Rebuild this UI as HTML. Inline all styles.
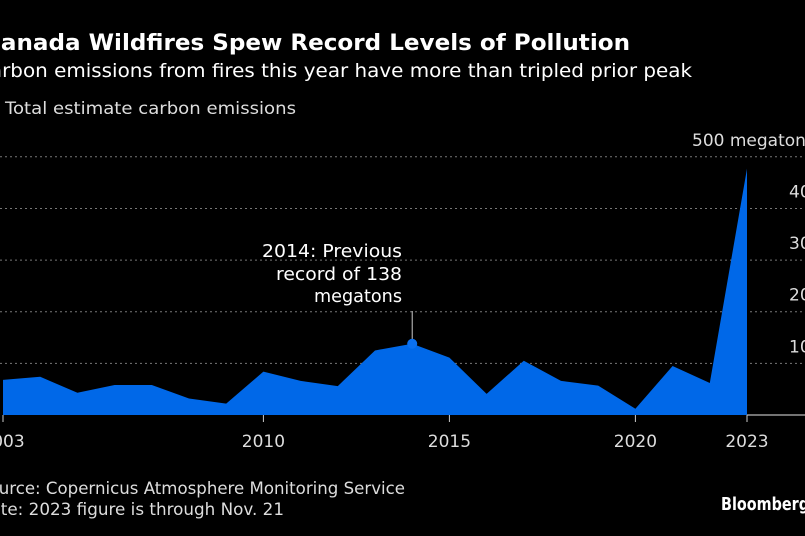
<!DOCTYPE html>
<html><head><meta charset="utf-8"><style>
html,body{margin:0;padding:0;background:#000;width:805px;height:536px;overflow:hidden}
svg{display:block;font-family:"DejaVu Sans","Liberation Sans",sans-serif}
</style></head><body>
<svg id="chart" width="805" height="536" viewBox="0 0 805 536">
<rect width="805" height="536" fill="#000"/>
<text x="-16" y="50" fill="#fff" font-weight="bold" font-size="22" textLength="646" lengthAdjust="spacingAndGlyphs">Canada Wildfires Spew Record Levels of Pollution</text>
<text x="-24" y="77" fill="#fff" font-size="19" textLength="716" lengthAdjust="spacingAndGlyphs">Carbon emissions from fires this year have more than tripled prior peak</text>
<text x="5" y="114" fill="#ddd" font-size="17" textLength="291" lengthAdjust="spacingAndGlyphs">Total estimate carbon emissions</text>
<g id="grid"></g>
<g id="area"></g>
<g id="axis"></g>
<g>
<text x="402" y="257" fill="#fff" font-size="18" text-anchor="end" textLength="140" lengthAdjust="spacingAndGlyphs">2014: Previous</text>
<text x="402" y="280" fill="#fff" font-size="18" text-anchor="end" textLength="126" lengthAdjust="spacingAndGlyphs">record of 138</text>
<text x="402" y="302" fill="#fff" font-size="18" text-anchor="end" textLength="88" lengthAdjust="spacingAndGlyphs">megatons</text>
</g>
<text x="-22" y="494" fill="#ddd" font-size="17" textLength="427" lengthAdjust="spacingAndGlyphs">Source: Copernicus Atmosphere Monitoring Service</text>
<text x="-22" y="515" fill="#ddd" font-size="17" textLength="306" lengthAdjust="spacingAndGlyphs">Note: 2023 figure is through Nov. 21</text>
<text x="721" y="510" fill="#fff" font-size="18" font-weight="bold" textLength="88" lengthAdjust="spacingAndGlyphs">Bloomberg</text>
</svg>
<script>
const years=[2003,2004,2005,2006,2007,2008,2009,2010,2011,2012,2013,2014,2015,2016,2017,2018,2019,2020,2021,2022,2023];
const values=[68,74,43,58,58,32,22,84,66,56,125,138,111,41,105,66,57,12,95,62,477];
const yTicks=[100,200,300,400,500];
const yTickLabels=["100","200","300","400","500 megatons"];
const xTicks=[2003,2010,2015,2020,2023];
const NS="http://www.w3.org/2000/svg";
const x=v=>3+(v-2003)*37.2;
const y=v=>415-v*0.5164;
function mk(t,a,p){const e=document.createElementNS(NS,t);for(const k in a)e.setAttribute(k,a[k]);p.appendChild(e);return e;}
const grid=document.getElementById('grid'),area=document.getElementById('area'),axis=document.getElementById('axis');
yTicks.forEach((t,i)=>{
 const l=mk('line',{x1:0,x2:805,y1:y(t),y2:y(t),stroke:'#777','stroke-dasharray':'2,3','stroke-width':1},grid);
 
 
 const tx=mk('text',{x:i==4?692:789,y:y(t)-11,fill:'#ddd','font-size':17},grid);
 tx.textContent=yTickLabels[i];
 
 
});
let d='M'+x(years[0])+','+y(0);
years.forEach((yr,i)=>{d+=' L'+x(yr)+','+y(values[i]);});
d+=' L'+x(years[years.length-1])+','+y(0)+' Z';
const p=mk('path',{d:d,fill:'#0068e8'},area);


const bl=mk('line',{x1:x(2023),x2:805,y1:y(0),y2:y(0),stroke:'#999','stroke-width':1.5},axis);


xTicks.forEach(t=>{
 const tk=mk('line',{x1:x(t),x2:x(t),y1:y(0),y2:y(0)+7,stroke:'#ccc','stroke-width':1},axis);
 
 
 const tx=mk('text',{x:x(t),y:447,fill:'#ddd','font-size':17,'text-anchor':'middle'},axis);
 tx.textContent=t;
 
 
});
const i14=years.indexOf(2014);
const al=mk('line',{x1:x(2014),x2:x(2014),y1:311,y2:y(values[i14]),stroke:'#ccc','stroke-width':1},axis);


const dot=mk('circle',{cx:x(2014),cy:y(values[i14]),r:5,fill:'#0a70f0'},axis);


</script>
</body></html>
